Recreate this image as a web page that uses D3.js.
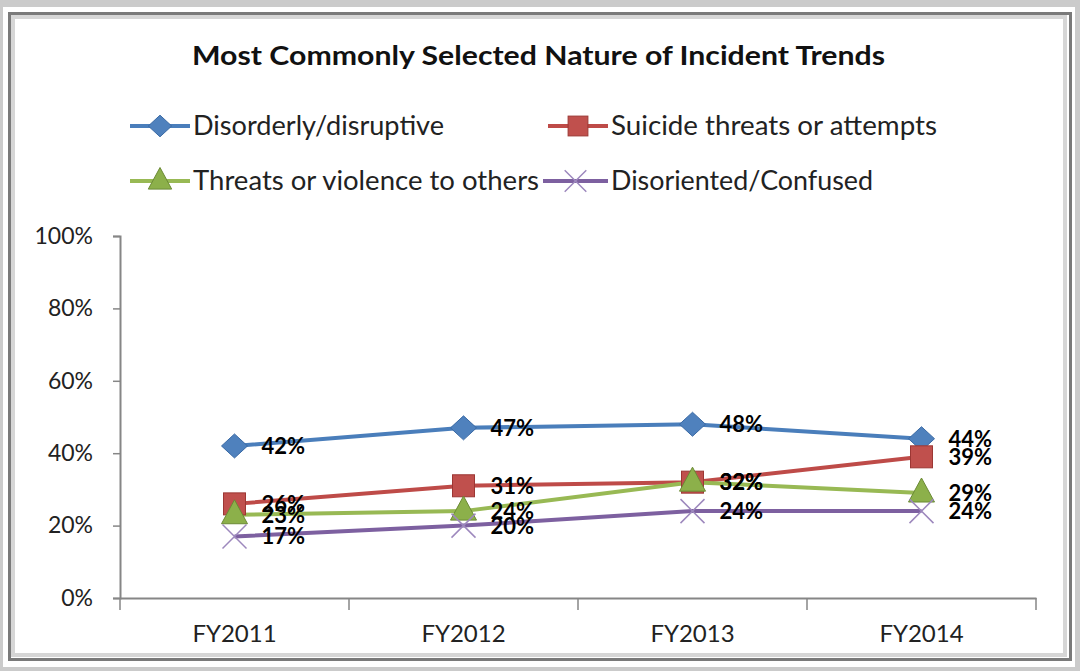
<!DOCTYPE html>
<html>
<head>
<meta charset="utf-8">
<script src="https://cdn.jsdelivr.net/npm/d3@7"></script>
<style>
  body { margin: 0; background: #cbcbcb; }
  svg { display: block; }
</style>
</head>
<body>
<div class="chart"></div>
<script>
// chart data
var years = ["FY2011", "FY2012", "FY2013", "FY2014"];
var seriesNames = ["Disorderly/disruptive", "Suicide threats or attempts", "Threats or violence to others", "Disoriented/Confused"];
var disorderly = [42, 47, 48, 44];
var suicide = [26, 31, 32, 39];
var threats = [23, 24, 32, 29];
var disoriented = [17, 20, 24, 24];
var yTicks = [0, 20, 40, 60, 80, 100];

var svgWidth = 1080;
var svgHeight = 671;
var margin = {top: 236, right: 44, bottom: 73, left: 120};
var chartWidth = svgWidth - margin.left - margin.right;
var chartHeight = svgHeight - margin.top - margin.bottom;

var styles = [
  {line: "#4a7ebb", fill: "#4f81bd", stroke: "#3a6aa5", shape: "diamond"},
  {line: "#be4b48", fill: "#c0504d", stroke: "#9c3734", shape: "square"},
  {line: "#98b954", fill: "#8cb04a", stroke: "#6b8a35", shape: "triangle"},
  {line: "#7d60a0", fill: "none", stroke: "#9d88bd", shape: "x"}
];
var allSeries = [disorderly, suicide, threats, disoriented];
var font = "Lato, 'Open Sans', sans-serif";

var svg = d3.select(".chart").append("svg")
  .attr("width", svgWidth)
  .attr("height", svgHeight);

// panel frame
svg.append("rect").attr("x", 3).attr("y", 7).attr("width", 1072).attr("height", 660).attr("fill", "#ffffff");
svg.append("rect").attr("x", 9.5).attr("y", 13.5).attr("width", 1061).attr("height", 646)
  .attr("fill", "#ffffff").attr("stroke", "#7a7a7a").attr("stroke-width", 3);
svg.append("rect").attr("x", 13).attr("y", 17).attr("width", 1052).attr("height", 638)
  .attr("fill", "none").attr("stroke", "#d6d6d6").attr("stroke-width", 4);

svg.append("text")
  .attr("x", 192).attr("y", 65)
  .attr("font-family", font)
  .attr("font-weight", "bold")
  .attr("font-size", 26)
  .attr("textLength", 693)
  .attr("lengthAdjust", "spacingAndGlyphs")
  .attr("fill", "#111")
  .text("Most Commonly Selected Nature of Incident Trends");

var chart = svg.append("g")
  .attr("transform", "translate(" + margin.left + "," + margin.top + ")");

var xScale = d3.scaleBand().domain(years).range([0, chartWidth]);
var yScale = d3.scaleLinear().domain([0, 100]).range([chartHeight, 0]);

// y axis
var leftAxis = d3.axisLeft(yScale).tickValues(yTicks).tickFormat(function(d) { return d + "%"; })
  .tickSize(7).tickPadding(20);
var gy = chart.append("g").call(leftAxis);
gy.select(".domain").attr("stroke", "#868686").attr("stroke-width", 2);
gy.selectAll(".tick line").attr("stroke", "#868686").attr("stroke-width", 1.5);
gy.selectAll("text").attr("font-family", font).attr("font-size", 23).attr("fill", "#222");

// x axis
var gx = chart.append("g").attr("transform", "translate(0," + chartHeight + ")")
  .call(d3.axisBottom(xScale).tickSize(0).tickPadding(27));
gx.select(".domain").attr("stroke", "#868686").attr("stroke-width", 2);
gx.selectAll("text").attr("font-family", font).attr("font-size", 24).attr("fill", "#222");
// boundary ticks
var bounds = years.map(function(y) { return xScale(y); }).concat([chartWidth]);
gx.selectAll(".btick").data(bounds).enter().append("line")
  .attr("x1", function(d) { return d; }).attr("x2", function(d) { return d; })
  .attr("y1", 0).attr("y2", 12)
  .attr("stroke", "#868686").attr("stroke-width", 1.5);

var cx = function(i) { return xScale(years[i]) + xScale.bandwidth() / 2; };

function marker(g, shape, st, k) {
  if (shape === "diamond") {
    g.append("path").attr("d", "M0," + (-12 * k) + "L" + (13 * k) + ",0L0," + (12 * k) + "L" + (-13 * k) + ",0Z")
      .attr("fill", st.fill).attr("stroke", st.stroke).attr("stroke-width", 1);
  } else if (shape === "square") {
    g.append("rect").attr("x", -11 * k).attr("y", -11 * k).attr("width", 22 * k).attr("height", 22 * k)
      .attr("fill", st.fill).attr("stroke", st.stroke).attr("stroke-width", 1);
  } else if (shape === "triangle") {
    g.append("path").attr("d", "M0," + (-15 * k) + "L" + (13 * k) + "," + (9 * k) + "L" + (-13 * k) + "," + (9 * k) + "Z")
      .attr("fill", st.fill).attr("stroke", st.stroke).attr("stroke-width", 1);
  } else {
    var r = 12 * k;
    g.append("path").attr("d", "M" + (-r) + "," + (-r) + "L" + r + "," + r + "M" + (-r) + "," + r + "L" + r + "," + (-r))
      .attr("fill", "none").attr("stroke", st.stroke).attr("stroke-width", 1.5);
  }
}

var line = d3.line().x(function(d, i) { return cx(i); }).y(function(d) { return yScale(d); });

allSeries.forEach(function(vals, s) {
  chart.append("path").datum(vals)
    .attr("d", line)
    .attr("fill", "none")
    .attr("stroke", styles[s].line)
    .attr("stroke-width", 4);
});

allSeries.forEach(function(vals, s) {
  vals.forEach(function(v, i) {
    var g = chart.append("g").attr("transform", "translate(" + cx(i) + "," + yScale(v) + ")");
    marker(g, styles[s].shape, styles[s], 1);
  });
});

allSeries.forEach(function(vals, s) {
  chart.selectAll(".lbl" + s).data(vals).enter().append("text")
    .attr("x", function(d, i) { return cx(i) + 27; })
    .attr("y", function(d) { return yScale(d) + 8; })
    .attr("font-family", "'Liberation Sans Narrow', Lato, sans-serif")
    .attr("font-weight", "bold")
    .attr("font-size", 22)
    .attr("fill", "#000")
    .text(function(d) { return d + "%"; });
});

// legend
var legendPos = [[130, 126], [548, 126], [130, 181], [543, 181]];
var legendLen = [251, 326, 346, 262];
seriesNames.forEach(function(name, s) {
  var lg = svg.append("g").attr("transform", "translate(" + legendPos[s][0] + "," + legendPos[s][1] + ")");
  var w = s === 3 ? 65 : 60;
  lg.append("line").attr("x1", 0).attr("x2", w).attr("y1", 0).attr("y2", 0)
    .attr("stroke", styles[s].line).attr("stroke-width", 4);
  var mg = lg.append("g").attr("transform", "translate(" + (w / 2) + ",0)");
  marker(mg, styles[s].shape, styles[s], 0.9);
  lg.append("text").attr("x", w + 3).attr("y", 9)
    .attr("font-family", font)
    .attr("font-size", 27)
    .attr("textLength", legendLen[s])
    .attr("lengthAdjust", "spacingAndGlyphs")
    .attr("fill", "#222")
    .text(name);
});
</script>
</body>
</html>
